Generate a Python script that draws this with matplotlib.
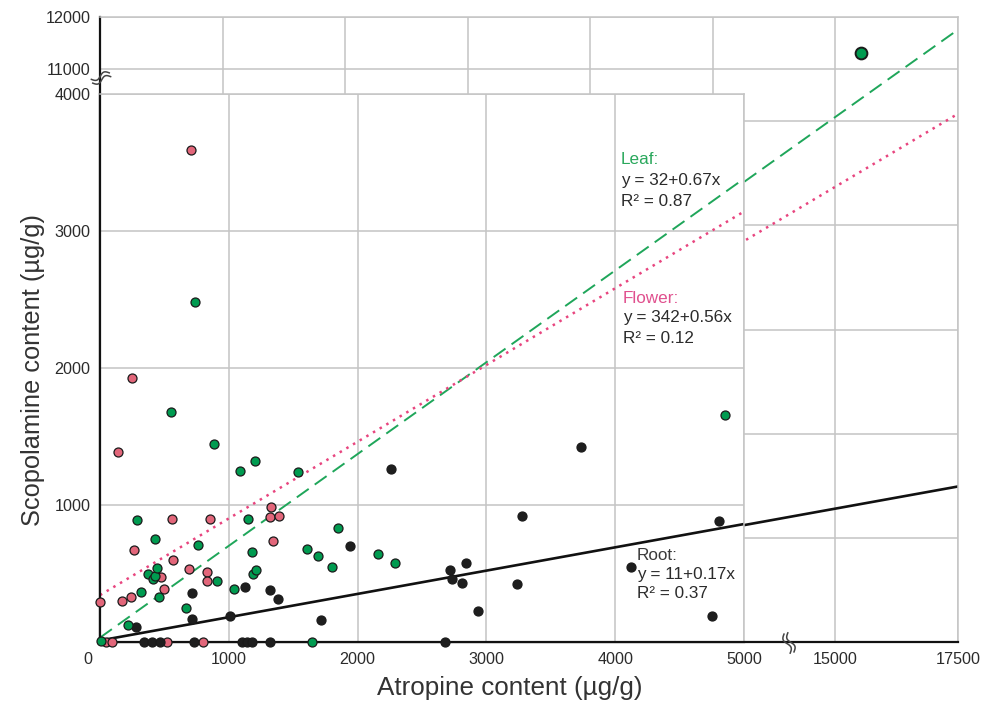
import numpy as np
import matplotlib
matplotlib.use("Agg")
import matplotlib.pyplot as plt
from matplotlib.lines import Line2D
from matplotlib.transforms import ScaledTranslation

plt.rcParams["font.family"] = ["Liberation Sans", "DejaVu Sans"]

# ---- data (µg/g) ----
leaf_x = [10, 215, 285, 318, 375, 414, 430, 440, 425, 458, 551, 670, 740, 761, 885, 906,
          1040, 1087, 1149, 1183, 1185, 1211, 1201, 1537, 1610, 1643, 1690, 1804, 1845,
          2161, 2288, 4852]
leaf_y = [5, 127, 891, 365, 494, 462, 480, 542, 749, 328, 1681, 248, 2484, 706, 1443, 445,
          389, 1250, 900, 655, 494, 526, 1323, 1241, 681, 0, 628, 550, 830,
          645, 574, 1659]
leaf_out_x = [15520]      # outlier shown in the broken upper-right region
leaf_out_y = [11310]

flower_x = [707, 251, 142, 562, 854, 1328, 1317, 1387, 262, 1343, 564, 689, 474, 828, 828,
            168, 241, 497, 0, 47, 91, 523, 797]
flower_y = [3591, 1925, 1389, 898, 898, 988, 915, 917, 669, 735, 599, 530, 472, 513, 443,
            299, 331, 389, 294, 0, 0, 0, 0]

root_x = [1126, 1322, 1385, 717, 717, 1012, 277, 344, 404, 463, 732, 1100, 1139, 1178, 1320,
          2257, 1944, 1718, 2717, 2733, 2844, 2808, 2937, 3276, 3235, 2681, 3732, 4808,
          4120, 4749]
root_y = [401, 377, 311, 360, 165, 190, 107, 0, 0, 0, 0, 0, 0, 0, 0,
          1263, 701, 161, 523, 462, 577, 428, 229, 920, 423, 0, 1423, 886,
          547, 190]

# regression fits: intercept, slope, R²
fits = {"Leaf": (32, 0.67, 0.87), "Flower": (342, 0.56, 0.12), "Root": (11, 0.17, 0.37)}

GREEN, PINK, BLACK = "#009b50", "#e2667a", "#1e1e1e"
GRID = "#c4c4c4"
TXT = "#2b2b2b"

W, H = 992, 706
fig = plt.figure(figsize=(W / 100, H / 100), dpi=100)

# outer (broken-scale) frame and inner zoomed plot, in pixels
L, R, T, Bt, INNER_R, INNER_T = 100, 958, 17, 642, 744, 94
out_rect = [L / W, 1 - Bt / H, (R - L) / W, (Bt - T) / H]
in_rect = [L / W, 1 - Bt / H, (INNER_R - L) / W, (Bt - INNER_T) / H]

ax_o = fig.add_axes(out_rect)
ax_i = fig.add_axes(in_rect)

# ---- outer axes ----
XO_MAX, YO_MAX = 17500, 12000
ax_o.set_xlim(0, XO_MAX)
ax_o.set_ylim(0, YO_MAX)
xo_ticks = [2500, 5000, 7500, 10000, 12500, 15000, 17500]
yo_ticks = [2000, 4000, 6000, 8000, 10000, 11000, 12000]
ax_o.set_xticks(xo_ticks)
ax_o.set_xticklabels([str(t) if t >= 15000 else "" for t in xo_ticks])
ax_o.set_yticks(yo_ticks)
ax_o.set_yticklabels([str(t) if t >= 11000 else "" for t in yo_ticks])
ax_o.grid(True, color=GRID, lw=1.1)
for s in ["top", "right"]:
    ax_o.spines[s].set_color(GRID)
    ax_o.spines[s].set_linewidth(1.1)
for s in ["left", "bottom"]:
    ax_o.spines[s].set_color("#111111")
    ax_o.spines[s].set_linewidth(1.6)
ax_o.tick_params(length=0, labelsize=11.6, labelcolor=TXT, pad=7)
ax_o.set_axisbelow(True)

# ---- inner axes ----
ax_i.set_xlim(0, 5000)
ax_i.set_ylim(0, 4000)
ax_i.set_facecolor("white")
ax_i.set_xticks([0, 1000, 2000, 3000, 4000, 5000])
ax_i.set_yticks([1000, 2000, 3000, 4000])
ax_i.grid(True, color=GRID, lw=1.1)
ax_i.set_axisbelow(True)
for s in ["top", "right"]:
    ax_i.spines[s].set_color(GRID)
    ax_i.spines[s].set_linewidth(1.1)
for s in ["left", "bottom"]:
    ax_i.spines[s].set_color("#111111")
    ax_i.spines[s].set_linewidth(1.6)
ax_i.tick_params(length=0, labelsize=11.6, labelcolor=TXT, pad=7)
lab0 = ax_i.get_xticklabels()[0]
lab0.set_transform(lab0.get_transform() + ScaledTranslation(-0.12, 0, fig.dpi_scale_trans))

styles = {
    "Leaf": dict(color="#1fa65a", lw=1.4, ls=(0, (7.5, 3.8))),
    "Flower": dict(color="#e8457f", lw=1.8, ls=(0, (1, 2.1))),
    "Root": dict(color="#111111", lw=1.9, ls="-"),
}

# regression lines: drawn on each scale; the outer one shows past the inner panel
for name, (a, b, r2) in fits.items():
    st = styles[name]
    xs = np.array([0, 5000])
    ax_i.plot(xs, a + b * xs, zorder=2, **st)
    xo = np.array([0, XO_MAX])
    ax_o.plot(xo, a + b * xo, zorder=2, **st)

mk = dict(s=42, edgecolors="#1a1a1a", linewidths=0.9, zorder=3, clip_on=False)
ax_i.scatter(flower_x, flower_y, c=PINK, **mk)
ax_i.scatter(root_x, root_y, c=BLACK, **mk)
ax_i.scatter(leaf_x, leaf_y, c=GREEN, **mk)
ax_o.scatter(leaf_out_x, leaf_out_y, c=GREEN, s=72, edgecolors="#1a1a1a", linewidths=1.4, zorder=3)

# equation labels
fs = 12.3
labels = [
    ("Leaf", 4045, [3520, 3365, 3212], "#2aa85c"),
    ("Flower", 4060, [2510, 2365, 2215], "#e0508e"),
    ("Root", 4170, [635, 495, 355], "#3a3a3a"),
]
for name, x0, ys, col in labels:
    a, b, r2 = fits[name]
    ax_i.text(x0, ys[0], f"{name}:", color=col, fontsize=fs, va="center", ha="left", zorder=4)
    ax_i.text(x0, ys[1], f"y = {a}+{b}x", color=TXT, fontsize=fs, va="center", ha="left", zorder=4)
    ax_i.text(x0, ys[2], f"R² = {r2}", color=TXT, fontsize=fs, va="center", ha="left", zorder=4)

# axis titles
fig.text(510 / W, 1 - 688 / H, "Atropine content (µg/g)", fontsize=18.7, color="#333333",
         ha="center", va="center")
fig.text(33 / W, 1 - 370 / H, "Scopolamine content (µg/g)", fontsize=18.3, color="#333333",
         ha="center", va="center", rotation=90)


# axis-break squiggles (pixel coords, origin top-left)
def squiggle(cx, cy, length, ang, gap=4.0, amp=2.6):
    t = np.linspace(-0.5, 0.5, 40)
    u = t * length
    v = amp * np.sin(2 * np.pi * t)
    th = np.deg2rad(ang)
    for off in (-gap / 2, gap / 2):
        vx = u * np.cos(th) - (v + off) * np.sin(th)
        vy = u * np.sin(th) + (v + off) * np.cos(th)
        fig.add_artist(Line2D((cx + vx) / W, 1 - (cy - vy) / H, color="#444444", lw=1.1,
                              transform=fig.transFigure, zorder=10))


squiggle(101, 78, 19, 20)
squiggle(789, 643, 20, -72)

fig.savefig("out.png", dpi=100)
